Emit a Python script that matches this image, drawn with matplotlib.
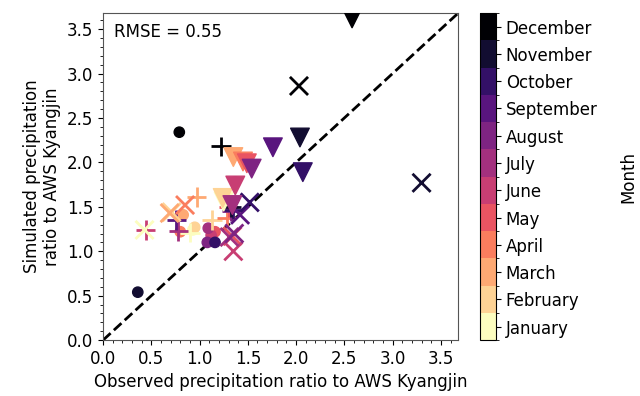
import numpy as np
import matplotlib
matplotlib.use("Agg")
import matplotlib.pyplot as plt
from matplotlib.colors import BoundaryNorm
from matplotlib.ticker import MultipleLocator

months = ["January", "February", "March", "April", "May", "June",
          "July", "August", "September", "October", "November", "December"]

# triângulos (v)
tri_obs = [1.25, 1.24, 1.35, 1.45, 1.49, 1.37, 1.34, 1.54, 1.76, 2.07, 2.04, 2.58]
tri_sim = [1.56, 1.60, 2.06, 2.01, 1.99, 1.74, 1.52, 1.93, 2.17, 1.89, 2.28, 3.62]
tri_mon = [1, 2, 3, 4, 5, 6, 7, 8, 9, 10, 11, 12]

# cruzes (x)
x_obs = [0.43, 0.71, 0.69, 0.85, 1.34, 1.35, 1.31, 1.36, 1.42, 1.52, 3.30, 2.03]
x_sim = [1.24, 1.44, 1.43, 1.52, 1.17, 1.00, 1.16, 1.20, 1.41, 1.55, 1.77, 2.86]
x_mon = [1, 2, 3, 4, 5, 6, 7, 8, 9, 10, 11, 12]

# mais (+)
p_obs = [0.90, 1.13, 0.97, 1.28, 1.30, 0.44, 0.78, 1.33, 0.76, 1.35, 1.33, 1.22]
p_sim = [1.21, 1.35, 1.61, 1.38, 1.50, 1.24, 1.23, 1.45, 1.35, 1.47, 1.50, 2.18]
p_mon = [1, 2, 3, 4, 5, 6, 7, 8, 9, 10, 11, 12]

# círculos (o)
c_obs = [0.93, 0.95, 0.83, 0.80, 1.16, 1.12, 1.09, 1.08, 1.37, 1.16, 0.36, 0.79]
c_sim = [1.24, 1.27, 1.41, 1.22, 1.22, 1.18, 1.26, 1.10, 1.78, 1.10, 0.54, 2.34]
c_mon = [1, 2, 3, 4, 5, 6, 7, 8, 9, 10, 11, 12]

rmse = 0.55
lim = 3.68

plt.rcParams['font.family'] = 'DejaVu Sans'
plt.rcParams['font.size'] = 12

cmap = plt.get_cmap('magma_r', 12)
norm = BoundaryNorm(np.arange(0.5, 13.5, 1), cmap.N)

fig = plt.figure(figsize=(6.4, 3.96), dpi=100)
ax = fig.add_axes([0.161, 0.141, 0.555, 0.826])
cax = fig.add_axes([0.75, 0.141, 0.025, 0.826])

ax.plot([0, lim], [0, lim], 'k--', lw=2, zorder=1)

ax.scatter(c_obs, c_sim, c=c_mon, cmap=cmap, norm=norm, marker='o', s=55, zorder=2)
ax.scatter(p_obs, p_sim, c=p_mon, cmap=cmap, norm=norm, marker='+', s=200, linewidths=2, zorder=2)
ax.scatter(x_obs, x_sim, c=x_mon, cmap=cmap, norm=norm, marker='x', s=170, linewidths=2, zorder=2)
sc = ax.scatter(tri_obs, tri_sim, c=tri_mon, cmap=cmap, norm=norm, marker='v', s=180, zorder=3)

ax.set_xlim(0, lim)
ax.set_ylim(0, lim)
ax.xaxis.set_major_locator(MultipleLocator(0.5))
ax.yaxis.set_major_locator(MultipleLocator(0.5))
ax.xaxis.set_minor_locator(MultipleLocator(0.1))
ax.yaxis.set_minor_locator(MultipleLocator(0.1))
for sp in ax.spines.values():
    sp.set_color('#555555')
ax.set_xlabel("Observed precipitation ratio to AWS Kyangjin")
ax.set_ylabel("Simulated precipitation\nratio to AWS Kyangjin")
ax.text(0.03, 0.97, "RMSE = %.2f" % rmse, transform=ax.transAxes, ha='left', va='top')

cb = fig.colorbar(sc, cax=cax, ticks=np.arange(1, 13))
cb.ax.set_yticklabels(months)
cb.set_label("Month", labelpad=16)

fig.savefig("out.png", dpi=100)
